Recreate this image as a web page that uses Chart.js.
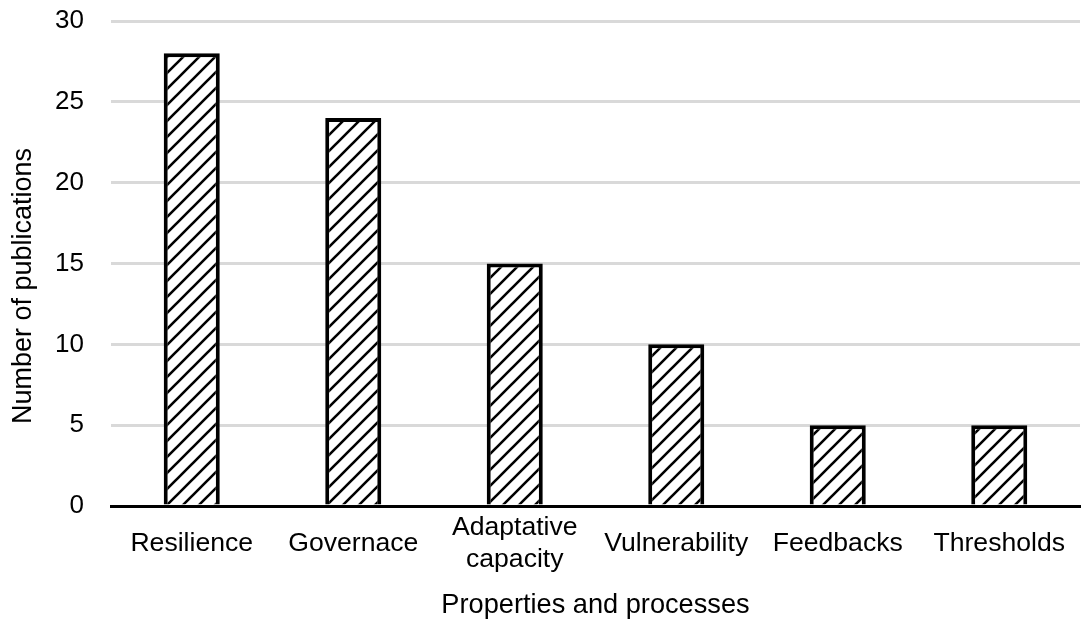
<!DOCTYPE html>
<html><head><meta charset="utf-8">
<script src="https://cdn.jsdelivr.net/npm/chart.js@4"></script>
<style>html,body{margin:0;padding:0;background:#fff;}#wrap{width:1084px;height:628px;}</style>
</head><body><div id="wrap"><canvas id="c" width="1084" height="628"></canvas></div>
<script>
const categories = ['Resilience','Governace',['Adaptative','capacity'],'Vulnerability','Feedbacks','Thresholds'];
const publications = [28, 24, 15, 10, 5, 5];
const yTicks = [0,5,10,15,20,25,30];

function hatch(){
  const S = 16, p = document.createElement('canvas');
  p.width = S; p.height = S;
  const g = p.getContext('2d');
  g.fillStyle = '#fff'; g.fillRect(0,0,S,S);
  g.strokeStyle = '#000'; g.lineWidth = 2.6;
  g.beginPath();
  g.moveTo(-3, S+3); g.lineTo(S+3, -3);
  g.moveTo(-3, 3); g.lineTo(3, -3);
  g.moveTo(S-3, S+3); g.lineTo(S+3, S-3);
  g.stroke();
  return g.createPattern(p,'repeat');
}

const fam = '"Liberation Sans", Arial, sans-serif';
new Chart(document.getElementById('c'), {
  type:'bar',
  data:{labels:categories, datasets:[{data:publications, backgroundColor:hatch(), borderColor:'#000', borderWidth:4,
    categoryPercentage:1, barPercentage:0.347}]},
  options:{
    responsive:false, animation:false,
    layout:{padding:{left:7,right:4,top:0,bottom:8}},
    plugins:{legend:{display:false}, tooltip:{enabled:false}},
    scales:{
      x:{grid:{display:false, drawTicks:false}, border:{color:'#000', width:3},
        afterFit:(s)=>{s.height = 114; s.paddingLeft = 0; s.paddingRight = 0;},
        ticks:{color:'#000', font:{family:fam, size:26.6, lineHeight:1.2}, padding:22, maxRotation:0, autoSkip:false, crossAlign:'center'},
        title:{display:true, text:'Properties and processes', color:'#000', font:{family:fam, size:27.2}, padding:{top:0,bottom:-2}}},
      y:{min:0, max:30, afterBuildTicks:(ax)=>{ax.ticks = yTicks.map(v=>({value:v}));},
        afterFit:(s)=>{s.width = 104; s.paddingTop = 21; s.paddingBottom = 0;},
        grid:{color:'#d9d9d9', lineWidth:3, drawTicks:false}, border:{display:false},
        ticks:{color:'#000', font:{family:fam, size:26}, padding:27},
        title:{display:true, text:'Number of publications      ', color:'#000', font:{family:fam, size:27}, padding:{top:0,bottom:0}}}
    }
  }
});
</script></body></html>
